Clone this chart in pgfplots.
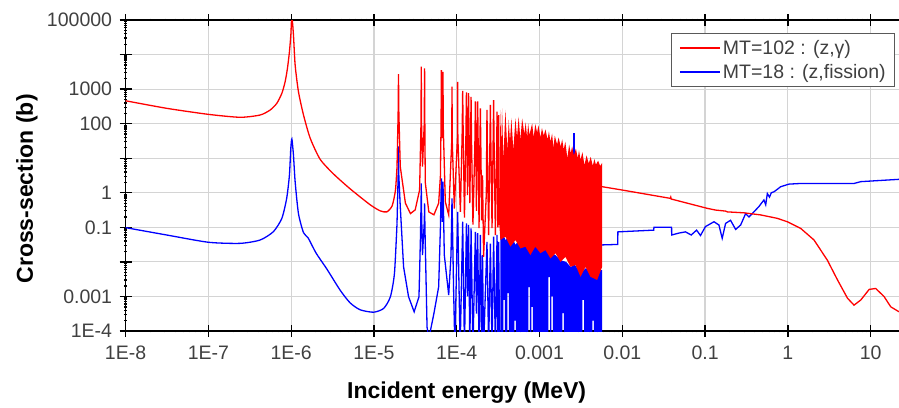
\documentclass[border=0pt]{standalone}
\usepackage{fontspec}
\setmainfont{Liberation Sans}
\usepackage{pgfplots}
\pgfplotsset{compat=1.18}
\definecolor{ticktext}{HTML}{404040}
\definecolor{gridgray}{HTML}{D4D4D4}

\begin{document}
\begin{tikzpicture}
\begin{axis}[
  at={(0,0)}, anchor=south west,
  scale only axis, width=773.4pt, height=311pt,
  xmode=log, ymode=log,
  xmin=1e-8, xmax=22, ymin=1e-4, ymax=1e5,
  axis y line*=left,
  axis line style={line width=1.3pt},
  xtick={1e-8,1e-7,1e-6,1e-5,1e-4,1e-3,1e-2,1e-1,1,10},
  xticklabels={1E-8,1E-7,1E-6,1E-5,1E-4,0.001,0.01,0.1,1,10},
  ytick={1e-4,1e-3,1e-2,1e-1,1,10,100,1000,10000,100000},
  yticklabels={1E-4,0.001,,0.1,1,,100,1000,,100000},
  minor xtick={}, minor ytick={},
  tick align=center, major tick length=12pt,
  tick style={black, line width=1.3pt},
  grid=major, major grid style={gridgray, line width=1.2pt},
  tick label style={font=\fontsize{19.5}{22}\selectfont, text=ticktext},
  xticklabel style={yshift=-5.5pt},
  yticklabel style={xshift=-4pt},
  xlabel={Incident energy (MeV)},
  ylabel={Cross-section (b)},
  label style={font=\fontsize{23}{26}\selectfont\bfseries},
  xlabel style={at={(axis description cs:0.441,-0.199)}, anchor=center},
  ylabel style={at={(axis description cs:-0.1275,0.457)}, anchor=center, rotate=0},
  legend style={at={(0.995,0.958)}, anchor=north east, draw=black!65, line width=1pt,
    fill=white, font=\fontsize{19.5}{22}\selectfont, text=ticktext,
    inner xsep=7pt, inner ysep=5pt, row sep=4pt},
  legend cell align=left,
  legend image code/.code={\draw[#1] (0pt,0pt) -- (40pt,0pt);},
]
\addlegendimage{red, line width=2pt}
\addlegendentry{MT=102 : (z,γ)}
\addlegendimage{blue, line width=2pt}
\addlegendentry{MT=18 : (z,fission)}

% MT=18, thermal range and first resonance
\addplot[blue, line width=1.3pt, smooth, tension=0.4, forget plot] coordinates {
(1e-8,0.098)(3.14e-8,0.060)(1e-7,0.037)(2.42e-7,0.0344)(4.22e-7,0.043)(6.1e-7,0.075)
(7.72e-7,0.182)(8.83e-7,0.69)(9.53e-7,3.27)(9.9e-7,19.4)(1.02e-6,36)(1.066e-6,12.3)
(1.117e-6,2.1)(1.225e-6,0.25)(1.41e-6,0.07)(1.6e-6,0.05)(2.0e-6,0.018)(2.7e-6,0.0062)
(3.92e-6,1.5e-3)(5.16e-6,6.5e-4)(6.83e-6,4.1e-4)(9.9e-6,3.5e-4)(1.31e-5,4.5e-4)
(1.58e-5,9.8e-4)(1.77e-5,4.7e-3)(1.90e-5,0.13)
};
% MT=18, resolved resonances
\addplot[blue, line width=1.3pt, forget plot] coordinates {
(1.90e-5,0.13)(1.96e-5,3)(1.98e-5,22)(2.0e-5,3)(2.08e-5,0.4)(2.28e-5,7.2e-3)
(2.62e-5,9.8e-4)(3.06e-5,3.6e-4)(3.5e-5,9.8e-4)(3.64e-5,0.043)(3.71e-5,0.5)
(3.73e-5,1.86)(3.76e-5,0.3)(3.86e-5,0.0158)(4.06e-5,0.15)(4.09e-5,0.49)(4.13e-5,0.1)
(4.38e-5,1.3e-4)(4.6e-5,6e-5)(5.3e-5,3.2e-4)(6.05e-5,1.9e-3)(6.35e-5,0.093)
(6.52e-5,2.6)(6.7e-5,0.145)(6.82e-5,2.1)(7.08e-5,0.0158)(8.0e-5,1.1e-3)
(8.53e-5,0.0158)(8.77e-5,0.69)(9.16e-5,1.7e-3)(9.5e-5,3e-5)(1.026e-4,0.28)
(1.1e-4,3e-5)(1.18e-4,0.145)(1.24e-4,3e-5)(1.31e-4,0.13)(1.35e-4,1e-3)
(1.39e-4,0.117)(1.44e-4,3e-5)(1.49e-4,0.093)(1.57e-4,3e-5)(1.68e-4,0.074)
(1.73e-4,3.2e-4)(1.79e-4,0.068)(1.86e-4,3e-5)(1.93e-4,0.06)(2.0e-4,3e-5)
(2.05e-4,0.0158)(2.11e-4,3e-5)(2.32e-4,0.038)(2.43e-4,3e-5)(2.55e-4,0.034)
(2.67e-4,3e-5)(2.79e-4,0.054)(2.93e-4,3e-5)(3.07e-4,0.06)(3.14e-4,3e-5)
(3.21e-4,0.038)(3.3e-4,3e-5)
};
% MT=18, dense resonance region
\addplot[fill=blue, draw=none, forget plot] coordinates {
(3.37e-4,0.054)(3.6e-4,0.07)(3.87e-4,0.043)(4.2e-4,0.05)(4.45e-4,0.035)(4.8e-4,0.045)
(5.12e-4,0.031)(5.5e-4,0.04)(5.87e-4,0.0275)(6.5e-4,0.035)(7.76e-4,0.0275)(9e-4,0.032)
(1.026e-3,0.0275)(1.2e-3,0.025)(1.355e-3,0.0178)(1.55e-3,0.016)(1.79e-3,0.0112)
(2.1e-3,0.01)(2.37e-3,0.0072)(2.7e-3,0.008)(3.13e-3,0.0047)(3.6e-3,0.0065)
(4.13e-3,0.0058)(5.71e-3,0.0058)(5.71e-3,3e-5)
(4.55e-3,3e-5)(4.55e-3,2e-4)(4.36e-3,2e-4)(4.36e-3,3e-5)
(3.45e-3,3e-5)(3.45e-3,8e-4)(3.30e-3,8e-4)(3.30e-3,3e-5)
(1.97e-3,3e-5)(1.97e-3,3.3e-4)(1.89e-3,3.3e-4)(1.89e-3,3e-5)
(1.45e-3,3e-5)(1.45e-3,1e-3)(1.39e-3,1e-3)(1.39e-3,3e-5)
(1.34e-3,3e-5)(1.34e-3,3.6e-3)(1.28e-3,3.6e-3)(1.28e-3,3e-5)
(8.32e-4,3e-5)(8.32e-4,5e-4)(7.98e-4,5e-4)(7.98e-4,3e-5)
(7.66e-4,3e-5)(7.66e-4,1.86e-3)(7.34e-4,1.86e-3)(7.34e-4,3e-5)
(5.18e-4,3e-5)(5.18e-4,2e-4)(4.97e-4,2e-4)(4.97e-4,3e-5)
(4.27e-4,3e-5)(4.27e-4,1.25e-3)(4.09e-4,1.25e-3)(4.09e-4,3e-5)
(3.82e-4,3e-5)(3.82e-4,8e-4)(3.66e-4,8e-4)(3.66e-4,3e-5)
(3.37e-4,3e-5)
};
\addplot[blue, line width=1.3pt, forget plot] coordinates {(2.6e-3,0.005)(2.6e-3,52)};
% MT=18, above the resonance region
\addplot[blue, line width=1.3pt, forget plot] coordinates {
(5.71e-3,0.031)(8.8e-3,0.032)(8.85e-3,0.074)(0.024,0.083)(0.0241,0.1)(0.0394,0.1)
(0.0395,0.06)(0.048,0.068)(0.058,0.074)(0.068,0.06)(0.079,0.083)(0.088,0.058)
(0.101,0.105)(0.128,0.145)(0.147,0.117)(0.161,0.048)(0.177,0.13)(0.203,0.16)
(0.234,0.087)(0.269,0.117)(0.309,0.25)(0.339,0.20)(0.389,0.28)(0.447,0.40)
(0.514,0.62)(0.54,0.45)(0.565,0.95)(0.60,0.75)(0.63,1.0)(0.68,1.07)(0.82,1.5)
(1.03,1.78)(1.43,1.86)(6.3,1.86)(7.6,2.1)(22,2.45)
};

% MT=102, thermal range and first resonance
\addplot[red, line width=1.3pt, smooth, tension=0.4, forget plot] coordinates {
(1e-8,460)(3.14e-8,278)(1e-7,186)(2.42e-7,153)(4.22e-7,178)(5.57e-7,248)(6.71e-7,388)
(7.72e-7,755)(8.46e-7,1640)(9.02e-7,4000)(9.53e-7,12000)(9.91e-7,36800)(1.019e-6,130000)
(1.066e-6,36800)(1.117e-6,4990)(1.225e-6,841)(1.41e-6,178)(1.70e-6,37.7)(2.24e-6,9.3)
(3.25e-6,3.5)(5.16e-6,1.3)(9.0e-6,0.45)(1.19e-5,0.30)(1.43e-5,0.28)(1.66e-5,0.42)
(1.82e-5,1.2)(1.90e-5,5.7)
};
% MT=102, resolved resonances
\addplot[red, line width=1.3pt, forget plot] coordinates {
(1.90e-5,5.7)(1.96e-5,200)(1.98e-5,2700)(2.0e-5,200)(2.08e-5,5.7)(2.4e-5,0.5)
(2.76e-5,0.25)(3.15e-5,0.32)(3.56e-5,1.2)(3.70e-5,100)(3.73e-5,4470)(3.76e-5,100)
(3.86e-5,5.7)(4.05e-5,100)(4.09e-5,4000)(4.12e-5,100)(4.17e-5,2)(4.6e-5,0.28)
(5.3e-5,0.23)(6.05e-5,0.5)(6.35e-5,3)(6.47e-5,100)
(6.52e-5,3550)(6.6e-5,100)(6.7e-5,38)(6.78e-5,100)(6.82e-5,3160)(6.88e-5,80)
(7.28e-5,0.55)(8.0e-5,0.23)(8.7e-5,30)(8.77e-5,1175)(8.84e-5,30)(9.35e-5,0.35)
(1.02e-4,40)(1.026e-4,1620)(1.032e-4,40)(1.107e-4,0.28)
(1.162e-4,45)(1.18e-4,890)(1.198e-4,45)(1.24e-4,0.19)
(1.29e-4,40)(1.31e-4,810)(1.33e-4,40)(1.35e-4,0.85)
(1.37e-4,38)(1.39e-4,760)(1.41e-4,38)(1.44e-4,0.5)
(1.47e-4,30)(1.49e-4,600)(1.51e-4,30)(1.57e-4,0.12)
(1.655e-4,22)(1.68e-4,440)(1.705e-4,22)(1.73e-4,0.3)
(1.763e-4,22)(1.79e-4,440)(1.817e-4,22)(1.86e-4,0.095)
(1.9e-4,14)(1.93e-4,275)(1.96e-4,14)(2.0e-4,0.16)(2.05e-4,3.2)(2.11e-4,0.014)
(2.28e-4,1.0)(2.3e-4,20)(2.32e-4,250)(2.35e-4,12)(2.43e-4,0.06)
(2.51e-4,17)(2.55e-4,350)(2.59e-4,17)(2.67e-4,0.095)
(2.75e-4,24)(2.79e-4,480)(2.83e-4,24)(2.93e-4,0.06)
(3.03e-4,11)(3.07e-4,224)(3.11e-4,11)(3.14e-4,0.1)(3.21e-4,178)(3.27e-4,0.117)
};
% MT=102, dense resonance region
\addplot[fill=red, draw=none, forget plot] coordinates {
(3.27e-4,0.117)(3.37e-4,250)(3.45e-4,20)(3.53e-4,276)(3.66e-4,8.9)(3.87e-4,250)
(4.09e-4,17)(4.25e-4,128)(4.4e-4,30)(4.57e-4,146)(4.83e-4,17)(5.12e-4,143)(5.35e-4,40)
(5.60e-4,159)(5.87e-4,34)(6.17e-4,143)(6.56e-4,50)(6.8e-4,110)(7.08e-4,40)(7.3e-4,102)
(7.55e-4,47)(8.15e-4,102)(8.5e-4,40)(8.9e-4,98)(9.35e-4,55)(9.7e-4,90)(1.026e-3,40)
(1.07e-3,75)(1.125e-3,45)(1.18e-3,68)(1.25e-3,35)(1.3e-3,60)(1.355e-3,30)(1.42e-3,52)
(1.47e-3,20)(1.53e-3,45)(1.63e-3,25)(1.70e-3,40)(1.80e-3,22)(1.88e-3,35)(1.96e-3,18)
(2.05e-3,30)(2.17e-3,10)(2.28e-3,25)(2.38e-3,14)(2.48e-3,22)(2.6e-3,12)(2.75e-3,19)
(2.9e-3,10)(3.0e-3,17)(3.13e-3,9)(3.3e-3,15)(3.49e-3,6.3)(3.7e-3,12)(3.94e-3,7)
(4.15e-3,11)(4.4e-3,6)(4.6e-3,9.5)(4.8e-3,6.5)(5.1e-3,8.5)(5.4e-3,6)(5.71e-3,7.3)
(5.71e-3,0.0072)(4.97e-3,0.003)(4.13e-3,0.0037)(3.59e-3,0.0072)
(3.13e-3,0.0037)(2.72e-3,0.0081)(2.37e-3,0.0072)(2.06e-3,0.014)(1.79e-3,0.01)
(1.56e-3,0.0178)(1.355e-3,0.0126)(1.18e-3,0.022)(1.026e-3,0.0178)(8.9e-4,0.0275)
(7.76e-4,0.0158)(6.76e-4,0.0275)(5.87e-4,0.0245)(5.12e-4,0.043)(4.45e-4,0.0275)
(3.87e-4,0.054)(3.37e-4,0.043)
};
% MT=102, above the resonance region
\addplot[red, line width=1.3pt, forget plot] coordinates {
(5.71e-3,1.5)(0.01,1.2)(0.038,0.69)(0.0385,0.75)(0.039,0.66)(0.106,0.355)
(0.134,0.316)(0.177,0.295)(0.186,0.28)(0.295,0.263)(0.468,0.229)(0.746,0.182)
(0.986,0.145)(1.43,0.093)(2.07,0.043)(3.0,0.0112)(3.98,0.003)(5.25,8.9e-4)
(6.3,5.6e-4)(7.6,7.9e-4)(9.6,1.6e-3)(11.5,1.7e-3)(14.5,1e-3)(17.5,5e-4)(22,3.6e-4)
};
\end{axis}
\pgfresetboundingbox
\path[use as bounding box] (-125.6pt,-76pt) rectangle (773.4pt,331pt);
\end{tikzpicture}
\end{document}
